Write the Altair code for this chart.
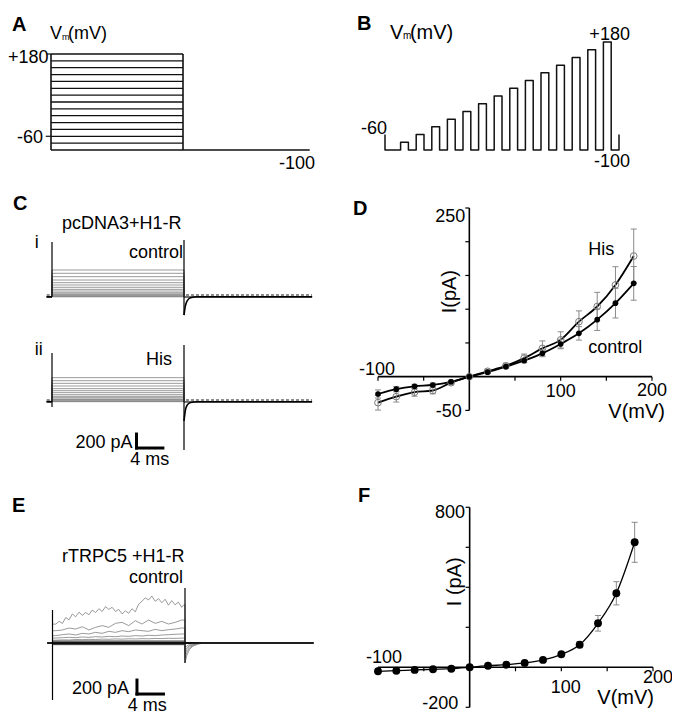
import altair as alt
import pandas as pd

FONT = "Liberation Sans"

# ---------------- data ----------------
# A: step protocol (mV)
A_steps_mV = [-100, -80, -60, -40, -20, 0, 20, 40, 60, 80, 100, 120, 140, 160, 180]
A_hold_mV = -100
A_pulse = [0, 100]
A_trace_end = 196

# B: pulse train protocol (mV)
B_pulses_mV = [-80, -60, -40, -20, 0, 20, 40, 60, 80, 100, 120, 140, 160, 180]
B_start_mV = -60
B_hold_mV = -100

# C / E current traces (pA), time in ms
PULSE = [0, 20]
TRACE = [-0.8, 39.4]
C1_hold = -26
C1_levels = [-26, -20, -6, 4, 16, 33, 57, 81, 110, 143, 176, 214, 262, 310, 357]
C2_hold = -24
C2_levels = [-24, -18, -5, 5, 14, 33, 52, 76, 105, 133, 162, 200, 238, 276, 319]
C_tail_t = [20, 20.2, 20.5, 21, 22]
C1_tail = [-286, -160, -80, -40, -26]
C2_tail = [-300, -150, -70, -35, -24]
# spikes: time, low, high
C1_spikes = [(0, -26, 757), (20, -286, 786)]
C2_spikes = [(0, -100, 671), (20, -714, 786)]

E_t_fine = [0.5 * k for k in range(1, 40)] + [19.8]
E_trace1 = [270, 310, 280, 365, 330, 415, 375, 440, 395, 435, 405, 470, 435, 490, 450,
            520, 480, 510, 450, 480, 415, 460, 425, 490, 445, 555, 595, 645, 615, 670,
            595, 635, 575, 625, 540, 605, 545, 585, 510, 545]
E_t_coarse = [k + 0.5 for k in range(20)]
E_trace2 = [176, 186, 214, 200, 233, 186, 224, 248, 224, 281, 295, 248, 319, 271, 328, 281, 309, 271, 295, 328]
E_trace3 = [105, 119, 129, 114, 138, 129, 152, 138, 167, 152, 176, 162, 186, 176, 167, 195, 176, 190, 200, 214]
E_trace4 = [71, 76, 81, 76, 86, 81, 90, 86, 95, 90, 100, 95, 105, 100, 110, 105, 114, 119, 124, 129]
E_trace5 = [40, 45, 43, 50, 48, 52, 50, 55, 53, 58, 55, 60, 58, 62, 60, 65, 63, 68, 66, 70]
E_flat_levels = [30, 18, 8, 2, -4, -8, -12, -16, -20, -24]
E_tail_t = [20, 20.3, 20.7, 21.2, 22, 23]
E_tails = [[-280, -170, -90, -45, -15, 0], [-220, -130, -70, -35, -10, 0],
           [-160, -95, -50, -25, -8, 0], [-110, -65, -35, -18, -5, 0],
           [-70, -40, -20, -10, -3, 0]]
E_spikes = [(0, -814, 471), (20, -286, 786)]

# D / F: I-V relations
V_iv = [-100, -80, -60, -40, -20, 0, 20, 40, 60, 80, 100, 120, 140, 160, 180]
D_control = [-25.7, -18.5, -14.3, -12.3, -7.6, 0, 6.7, 14.8, 23.7, 34.6, 48.4, 64.2, 84.5, 109, 138.3]
D_control_err = [6, 4, 3, 3, 2, 1, 2, 2, 3, 5, 7, 10, 16, 22, 25]
D_his = [-38.5, -29.6, -23, -20.5, -8.9, 0, 8, 16, 27.5, 42, 54.5, 81.5, 104, 136, 178.8]
D_his_err = [11, 8, 6, 5, 3, 1, 3, 4, 6, 11, 12, 16, 21, 27, 40]
F_I = [-20, -17, -13, -10, -7, 0, 8, 13, 22, 37, 65, 113, 220, 370, 625]
F_err = [4, 3, 3, 3, 3, 2, 3, 3, 4, 5, 8, 15, 39, 58, 100]

D_xticks = [-100, -50, 50, 100, 150, 200]
D_yticks = [-50, 50, 100, 150, 200, 250]
F_xticks = [-100, -50, 50, 100, 150, 200]
F_yticks = [-200, 200, 400, 600, 800]

# ---------------- panel scales ----------------
def sc(d, r):
    return alt.Scale(domain=d, range=r, nice=False, zero=False)

P = {
    'A': (sc([0, 100], [43, 175]), sc([-100, 180], [142, 46])),
    'B': (sc([0, 15], [377, 611]), sc([-100, 180], [142, 34])),
    'C1': (sc([0, 20], [44, 176]), sc([0, 1000], [287, 217])),
    'C2': (sc([0, 20], [44, 176]), sc([0, 1000], [392, 322])),
    'D': (sc([-100, 200], [370, 644]), sc([-50, 250], [402.4, 200])),
    'E': (sc([0, 20], [44.5, 177]), sc([0, 1000], [635, 565])),
    'F': (sc([-100, 200], [370, 645]), sc([-200, 800], [699.3, 499.3])),
}

layers = []


def add_rules(p, rows, color='black', width=1.5, dash=None, cap='butt'):
    xs, ys = P[p]
    df = pd.DataFrame(rows, columns=['x', 'x2', 'y', 'y2'])
    kw = dict(color=color, strokeWidth=width, strokeCap=cap)
    if dash:
        kw['strokeDash'] = dash
    layers.append(alt.Chart(df).mark_rule(**kw).encode(
        x=alt.X('x:Q', scale=xs, axis=None), x2='x2:Q',
        y=alt.Y('y:Q', scale=ys, axis=None), y2='y2:Q'))


def add_lines(p, paths, color='black', width=1.0, interp='linear', dash=None):
    xs, ys = P[p]
    rows = []
    for g, pts in enumerate(paths):
        for i, (x, y) in enumerate(pts):
            rows.append({'x': x, 'y': y, 'g': g, 'i': i})
    df = pd.DataFrame(rows)
    kw = dict(color=color, strokeWidth=width, interpolate=interp, strokeJoin='round')
    if dash:
        kw['strokeDash'] = dash
    layers.append(alt.Chart(df).mark_line(**kw).encode(
        x=alt.X('x:Q', scale=xs, axis=None),
        y=alt.Y('y:Q', scale=ys, axis=None),
        detail='g:N', order='i:Q'))


def add_points(p, xv, yv, filled, color, size, stroke_w=1.0):
    xs, ys = P[p]
    df = pd.DataFrame({'x': xv, 'y': yv})
    if filled:
        m = alt.Chart(df).mark_point(filled=True, color=color, size=size, opacity=1)
    else:
        m = alt.Chart(df).mark_point(filled=False, color=color, size=size,
                                     strokeWidth=stroke_w, opacity=1)
    layers.append(m.encode(x=alt.X('x:Q', scale=xs, axis=None),
                           y=alt.Y('y:Q', scale=ys, axis=None)))


def label(p, x, y, text, size=18, align='left', baseline='alphabetic', dx=0, dy=0,
          bold=False, angle=0):
    xs, ys = P[p]
    df = pd.DataFrame({'x': [x], 'y': [y], 't': [text]})
    kw = dict(align=align, baseline=baseline, dx=dx, dy=dy, fontSize=size, font=FONT,
              color='black')
    if bold:
        kw['fontWeight'] = 'bold'
    if angle:
        kw['angle'] = angle
    layers.append(alt.Chart(df).mark_text(**kw).encode(
        x=alt.X('x:Q', scale=xs, axis=None),
        y=alt.Y('y:Q', scale=ys, axis=None), text='t:N'))


# ---------------- A ----------------
add_rules('A', [(A_pulse[0], A_pulse[1], v, v) for v in A_steps_mV], width=1.3, color='#111')
add_rules('A', [(A_pulse[1], A_trace_end, A_hold_mV, A_hold_mV)], width=1.5, color='#111')
add_rules('A', [(t, t, A_hold_mV, max(A_steps_mV)) for t in A_pulse], width=1.6, color='#111')
add_rules('A', [(-3, 0, 180, 180), (-4, 0, -60, -60)], width=1.2, color='#111')
label('A', -29.5, 248, 'A', 20, bold=True)
label('A', -0.8, 223.7, 'V')
label('A', 8.3, 221, 'm', 9)
label('A', 12.9, 223.7, '(mV)')
label('A', -3, 180, '+180', align='right', dx=1.5, dy=9)
label('A', -6, -60, '-60', align='right', dy=7)
label('A', 200, -100, '-100', align='right', dy=18.5)

# ---------------- B ----------------
b_path = [(0, B_start_mV), (0, B_hold_mV)]
for k, v in enumerate(B_pulses_mV):
    b_path += [(k + 1, B_hold_mV), (k + 1, v), (k + 1.5, v), (k + 1.5, B_hold_mV)]
b_path += [(len(B_pulses_mV) + 1, B_hold_mV), (len(B_pulses_mV) + 1, B_start_mV)]
add_lines('B', [b_path], color='#111', width=1.5)
label('B', -1.8, 211, 'B', 20, bold=True)
label('B', 0.32, 187.8, 'V', 20)
label('B', 1.15, 186.5, 'm', 10)
label('B', 1.6, 187.8, '(mV)', 20)
label('B', 15.7, 180, '+180', align='right', dy=-2.5)
label('B', 0.13, -60, '-60', align='right', dy=-1)
label('B', 15.7, -100, '-100', align='right', dy=16.5)


# ---------------- C ----------------
def step_paths(levels, hold):
    return [[(TRACE[0], hold), (PULSE[0], hold), (PULSE[0], L), (PULSE[1], L),
             (PULSE[1], hold), (TRACE[1], hold)] for L in levels]


for pan, levels, hold, tail, spikes in [('C1', C1_levels, C1_hold, C1_tail, C1_spikes),
                                         ('C2', C2_levels, C2_hold, C2_tail, C2_spikes)]:
    add_lines(pan, step_paths(levels, hold), color='#707070', width=0.7)
    add_lines(pan, [[(TRACE[0], hold), (PULSE[0], hold)],
                    list(zip(C_tail_t, tail)) + [(TRACE[1], hold)]],
              color='black', width=1.6, interp='monotone')
    add_rules(pan, [(TRACE[0], PULSE[0], 0, 0), (PULSE[1] + 0.3, TRACE[1], 0, 0)],
              color='black', width=0.9, dash=[3, 2])
    add_rules(pan, [(t, t, lo, hi) for t, lo, hi in spikes], color='black', width=1.2)

label('C1', -5.9, 1214, 'C', 20, bold=True)
label('C1', 1.5, 950, 'pcDNA3+H1-R')
label('C1', -2.6, 671, 'i')
label('C1', 19.85, 529, 'control', align='right')
label('C2', -2.6, 643, 'ii')
label('C2', 18.2, 500, 'His', align='right')
add_rules('C2', [(12.8, 12.8, -686, -486), (12.8, 16.8, -686, -686)], width=3, cap='square')
label('C2', 12.8, -686, '200 pA', align='right', dx=-4)
label('C2', 14.8, -686, '4 ms', align='center', dy=17)

# ---------------- E ----------------
noisy = [list(zip(E_t_fine, E_trace1))] + [list(zip(E_t_coarse, tr)) for tr in
                                           (E_trace2, E_trace3, E_trace4, E_trace5)]
e_paths = []
for pts, tail in zip(noisy, E_tails):
    e_paths.append([(TRACE[0], 0), (PULSE[0], 0), (PULSE[0], pts[0][1])] + pts +
                   [(PULSE[1], pts[-1][1])] + list(zip(E_tail_t, tail)) + [(TRACE[1], 0)])
e_flat = step_paths(E_flat_levels, 0)
add_lines('E', e_flat, color='#404040', width=0.8)
add_lines('E', e_paths, color='#808080', width=0.8)
add_lines('E', [[(TRACE[0], 0), (TRACE[1], 0)]], color='black', width=1.6)
add_rules('E', [(t, t, lo, hi) for t, lo, hi in E_spikes], color='black', width=1.2)
label('E', -6.1, 1876, 'E', 20, bold=True)
label('E', 1.43, 1161, 'rTRPC5 +H1-R')
label('E', 19.7, 853, 'control', align='right')
add_rules('E', [(12.75, 12.75, -729, -529), (12.75, 16.75, -729, -729)], width=3, cap='square')
label('E', 12.75, -729, '200 pA', align='right', dx=-8)
label('E', 14.75, -729, '4 ms', align='center', dx=-3, dy=16.5)

# ---------------- D ----------------
add_rules('D', [(-100, 200, 0, 0), (0, 0, -50, 250)], width=1.6)
add_rules('D', [(x, x, 0, -6) for x in D_xticks] + [(-4.4, 0, y, y) for y in D_yticks], width=1.2)
add_lines('D', [list(zip(V_iv, D_his)), list(zip(V_iv, D_control))], color='black',
          width=1.8, interp='monotone')
for ys_, es in [(D_his, D_his_err), (D_control, D_control_err)]:
    rows = []
    for x, y, e in zip(V_iv, ys_, es):
        rows += [(x, x, y - e, y + e), (x - 3.3, x + 3.3, y - e, y - e), (x - 3.3, x + 3.3, y + e, y + e)]
    add_rules('D', rows, color='#8a8a8a', width=1.0)
add_points('D', V_iv, D_his, False, '#7a7a7a', 45, 1.0)
add_points('D', V_iv, D_control, True, 'black', 32)
label('D', -127.4, 239.6, 'D', 20, bold=True)
label('D', 0, 250, '250', align='right', dx=-4, dy=13.7)
label('D', 0, -50, '-50', align='right', dx=-7.6, dy=6.3)
label('D', -100, 0, '-100', align='center', dx=-1, dy=-1.7)
label('D', 100, 0, '100', align='center', dy=20)
label('D', 200, 0, '200', align='center', dy=19.5)
label('D', 200, 0, 'V(mV)', 20, align='right', dx=13, dy=41.5)
label('D', -21.2, 126, 'I(pA)', 20, align='center', baseline='middle', angle=270)
label('D', 130.3, 180.3, 'His')
label('D', 130.3, 34.6, 'control')

# ---------------- F ----------------
add_rules('F', [(-100, 200, 0, 0), (0, 0, -200, 800)], width=1.6)
add_rules('F', [(x, x, 0, -20) for x in F_xticks] + [(-4.4, 0, y, y) for y in F_yticks], width=1.2)
add_lines('F', [list(zip(V_iv, F_I))], color='black', width=1.3, interp='monotone')
rows = []
for x, y, e in zip(V_iv, F_I, F_err):
    rows += [(x, x, y - e, y + e), (x - 3.3, x + 3.3, y - e, y - e), (x - 3.3, x + 3.3, y + e, y + e)]
add_rules('F', rows, color='#8a8a8a', width=1.0)
add_points('F', V_iv, F_I, True, 'black', 62)
label('F', -121.8, 828, 'F', 20, bold=True)
label('F', 0, 800, '800', align='right', dx=-4.7, dy=11)
label('F', -100, 0, '-100', align='center', dx=6, dy=-4)
label('F', 0, -200, '-200', align='right', dx=-11.4, dy=1.5)
label('F', 100, 0, '100', align='center', dx=4.5, dy=26)
label('F', 200, 0, '200', align='center', dx=5, dy=15.5)
label('F', 200, 0, 'V(mV)', 20, align='right', dx=1, dy=36.5)
label('F', -16, 428, 'I (pA)', 20, align='center', baseline='middle', angle=270)

chart = alt.layer(*layers).resolve_scale(x='independent', y='independent').properties(
    width=664, height=706, padding=0, autosize='none', background='white'
).configure_view(stroke=None)

chart.save("out.html", embed_options={"renderer": "svg", "actions": False})
